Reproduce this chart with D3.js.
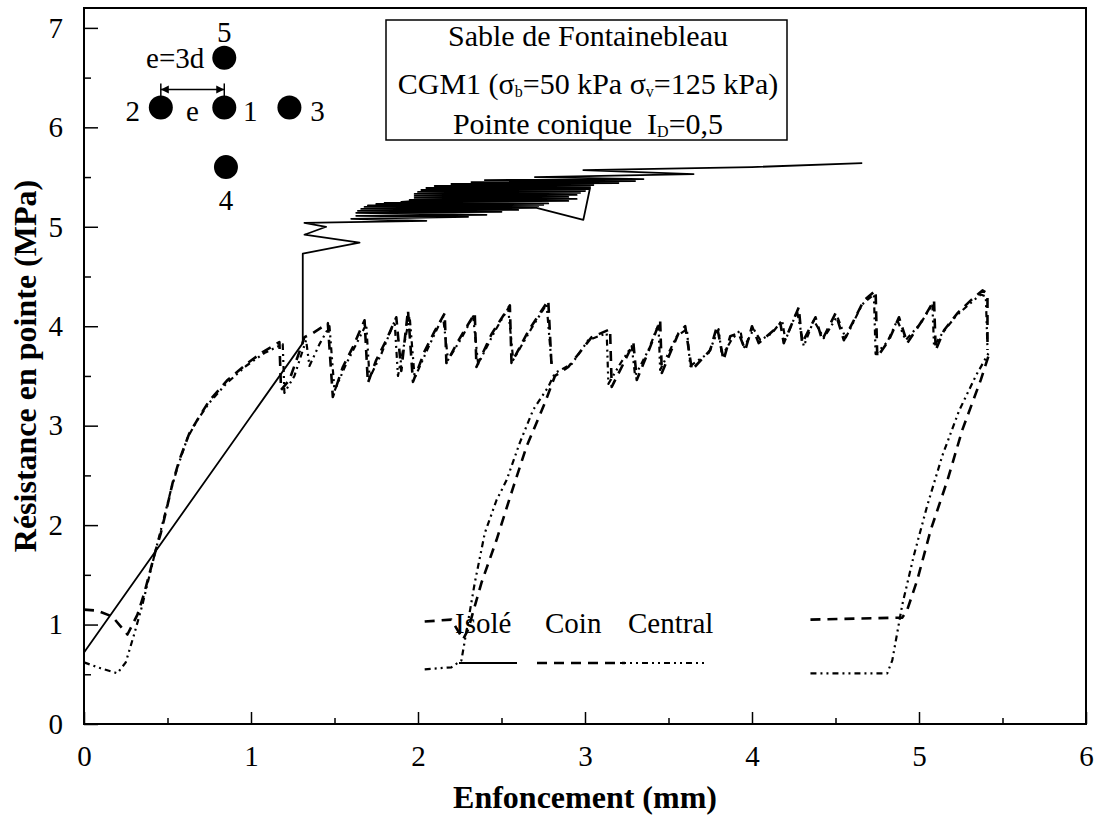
<!DOCTYPE html>
<html>
<head>
<meta charset="utf-8">
<script src="https://cdn.jsdelivr.net/npm/d3@7"></script>
<style>
  body { margin: 0; background: #fff; }
  svg text { font-family: "Liberation Serif", "Times New Roman", serif; fill: #000; }
</style>
</head>
<body>
<svg id="chart" width="1100" height="815"></svg>
<script>
// Tick values
var xTicks = [0, 1, 2, 3, 4, 5, 6];
var xMinor = [0.5, 1.5, 2.5, 3.5, 4.5, 5.5];
var yTicks = [0, 1, 2, 3, 4, 5, 6, 7];
var yMinor = [0.5, 1.5, 2.5, 3.5, 4.5, 5.5, 6.5];

var legendNames = ['Isolé', 'Coin', 'Central'];

// Isolé (trait plein) : [enfoncement mm, résistance MPa]
var isole = [[0, 0.72], [1.31, 3.83], [1.31, 4.73], [1.65, 4.84], [1.32, 4.92], [1.45, 5.0],
  [1.32, 5.04], [2.05, 5.06], [1.6, 5.08], [2.3, 5.1], [1.63, 5.11], [2.41, 5.12],
  [1.63, 5.14], [2.5, 5.15], [1.64, 5.16], [2.6, 5.17], [1.66, 5.18], [2.7, 5.19],
  [1.68, 5.2], [2.72, 5.21], [1.7, 5.215], [2.75, 5.22], [1.75, 5.23], [2.78, 5.235],
  [1.8, 5.24], [2.64, 5.22], [2.99, 5.07], [3.03, 5.39], [1.9, 5.25], [2.9, 5.26],
  [1.95, 5.27], [2.95, 5.28], [1.98, 5.29], [2.9, 5.3], [1.98, 5.31], [2.95, 5.32],
  [1.98, 5.33], [2.97, 5.34], [2.0, 5.35], [3.0, 5.36], [2.02, 5.37], [3.02, 5.38],
  [2.05, 5.39], [3.03, 5.4], [2.1, 5.41], [3.05, 5.42], [2.2, 5.43], [3.2, 5.44],
  [2.32, 5.45], [3.3, 5.46], [2.4, 5.47], [3.35, 5.48], [2.7, 5.5], [3.65, 5.53],
  [2.99, 5.57], [4.0, 5.6], [4.66, 5.64]];

// Coin (tirets)
var coin1 = [[0, 1.15], [0.08, 1.14], [0.17, 1.08], [0.26, 0.9], [0.32, 1.1], [0.36, 1.31],
  [0.39, 1.5], [0.43, 1.75], [0.46, 1.92], [0.5, 2.2], [0.53, 2.42], [0.57, 2.65],
  [0.63, 2.92], [0.69, 3.09], [0.75, 3.25], [0.86, 3.46], [0.98, 3.63], [1.07, 3.74],
  [1.17, 3.84], [1.18, 3.36], [1.23, 3.46], [1.3, 3.79], [1.32, 3.89], [1.37, 3.93],
  [1.46, 4.03], [1.49, 3.29], [1.55, 3.59], [1.61, 3.79], [1.68, 4.06], [1.7, 3.43],
  [1.75, 3.66], [1.81, 3.86], [1.87, 4.09], [1.9, 3.55], [1.94, 4.16], [1.97, 3.44],
  [2.04, 3.75], [2.1, 3.95], [2.16, 4.13], [2.17, 3.63], [2.24, 3.85], [2.34, 4.13],
  [2.35, 3.59], [2.44, 3.92], [2.55, 4.21], [2.56, 3.63], [2.66, 3.95], [2.78, 4.26],
  [2.8, 3.59]];
var coin2 = [[2.04, 1.03], [2.2, 1.05], [2.27, 0.85], [2.3, 0.95], [2.38, 1.42], [2.47, 1.85],
  [2.57, 2.38], [2.65, 2.79], [2.76, 3.23], [2.82, 3.5], [2.9, 3.59], [3.04, 3.89],
  [3.15, 3.97], [3.16, 3.39], [3.22, 3.59], [3.29, 3.83], [3.31, 3.46], [3.39, 3.79],
  [3.45, 4.06], [3.46, 3.53], [3.56, 3.93], [3.6, 4.0], [3.64, 3.56], [3.75, 3.76],
  [3.79, 4.0], [3.83, 3.66], [3.87, 3.9], [3.92, 3.93], [3.96, 3.76], [4.0, 4.0],
  [4.04, 3.83], [4.13, 3.96], [4.17, 4.03], [4.19, 3.83], [4.28, 4.19], [4.3, 3.83],
  [4.38, 4.09], [4.42, 3.86], [4.5, 4.13], [4.55, 3.86], [4.67, 4.26], [4.74, 4.36],
  [4.75, 3.69], [4.82, 3.86], [4.88, 4.09], [4.93, 3.83], [5.02, 4.06], [5.09, 4.26],
  [5.1, 3.76], [5.15, 3.96], [5.23, 4.13], [5.31, 4.26], [5.38, 4.36], [5.41, 4.33],
  [5.41, 3.76]];
var coin3 = [[4.35, 1.05], [4.9, 1.07], [4.93, 1.15], [4.99, 1.45], [5.07, 1.95], [5.17, 2.45],
  [5.26, 2.96], [5.37, 3.46], [5.42, 3.72]];

// Central (tiret-point-point)
var central1 = [[0, 0.62], [0.1, 0.56], [0.2, 0.51], [0.25, 0.62], [0.3, 0.9], [0.35, 1.2],
  [0.4, 1.55], [0.44, 1.82], [0.48, 2.08], [0.52, 2.35], [0.56, 2.58], [0.62, 2.88],
  [0.68, 3.06], [0.75, 3.23], [0.85, 3.42], [0.97, 3.6], [1.08, 3.73], [1.19, 3.82],
  [1.2, 3.33], [1.26, 3.5], [1.33, 3.86], [1.35, 3.6], [1.41, 3.82], [1.47, 4.0],
  [1.5, 3.35], [1.57, 3.62], [1.63, 3.82], [1.69, 4.02], [1.71, 3.48], [1.78, 3.72],
  [1.86, 4.05], [1.88, 3.5], [1.95, 4.1], [1.98, 3.48], [2.06, 3.78], [2.15, 4.1],
  [2.18, 3.66], [2.26, 3.88], [2.33, 4.1], [2.36, 3.62], [2.46, 3.95], [2.54, 4.18],
  [2.57, 3.66], [2.68, 3.98], [2.77, 4.22], [2.8, 3.62]];
var central2 = [[2.04, 0.55], [2.2, 0.57], [2.26, 0.64], [2.34, 1.42], [2.4, 1.92], [2.47, 2.25],
  [2.53, 2.45], [2.61, 2.83], [2.69, 3.16], [2.78, 3.39], [2.82, 3.53], [2.92, 3.62],
  [3.02, 3.86], [3.13, 3.93], [3.14, 3.42], [3.21, 3.62], [3.28, 3.8], [3.3, 3.5],
  [3.38, 3.76], [3.44, 4.02], [3.45, 3.56], [3.55, 3.9], [3.61, 3.97], [3.63, 3.6],
  [3.74, 3.73], [3.8, 3.97], [3.82, 3.7], [3.88, 3.87], [3.93, 3.96], [3.95, 3.78],
  [4.01, 3.97], [4.05, 3.86], [4.12, 3.93], [4.18, 4.06], [4.2, 3.86], [4.27, 4.15],
  [4.31, 3.8], [4.37, 4.06], [4.43, 3.88], [4.51, 4.1], [4.56, 3.88], [4.66, 4.22],
  [4.73, 4.32], [4.74, 3.72], [4.81, 3.84], [4.87, 4.06], [4.92, 3.86], [5.01, 4.03],
  [5.08, 4.22], [5.09, 3.8], [5.14, 3.93], [5.22, 4.1], [5.3, 4.22], [5.37, 4.32],
  [5.4, 4.3], [5.41, 3.78]];
var central3 = [[4.35, 0.51], [4.81, 0.51], [4.84, 0.64], [4.9, 1.2], [4.97, 1.7], [5.05, 2.2],
  [5.14, 2.7], [5.24, 3.15], [5.34, 3.5], [5.42, 3.74]];

// Schéma des pieux
var pileLabels = ['1', '2', '3', '4', '5'];
var pileX = [0.84, 0.46, 1.23, 0.85, 0.84];
var pileY = [6.2, 6.2, 6.2, 5.6, 6.7];

var svg = d3.select('#chart');

var x = d3.scaleLinear().domain([0, 6]).range([84, 1086]);
var y = d3.scaleLinear().domain([0, 7.2]).range([724, 8]);

function styleAxis(g) {
  g.select('.domain').remove();
  g.selectAll('line').attr('stroke', '#000').attr('stroke-width', 1.5);
  g.selectAll('text').attr('font-family', '"Liberation Serif", serif').attr('font-size', 29);
}

// Axes
svg.append('g')
  .attr('transform', 'translate(84,0)')
  .call(d3.axisLeft(y).tickValues(yTicks).tickSize(-14).tickPadding(21).tickFormat(d3.format('d')))
  .call(styleAxis);
svg.append('g')
  .attr('transform', 'translate(84,0)')
  .call(d3.axisLeft(y).tickValues(yMinor).tickSize(-7).tickFormat(''))
  .call(styleAxis);
svg.append('g')
  .attr('transform', 'translate(0,724)')
  .call(d3.axisBottom(x).tickValues(xTicks).tickSize(-12).tickPadding(21).tickFormat(d3.format('d')))
  .call(styleAxis);
svg.append('g')
  .attr('transform', 'translate(0,724)')
  .call(d3.axisBottom(x).tickValues(xMinor).tickSize(-6).tickFormat(''))
  .call(styleAxis);

// Frame
svg.append('rect')
  .attr('x', x(0)).attr('y', y(7.2))
  .attr('width', x(6) - x(0)).attr('height', y(0) - y(7.2))
  .attr('fill', 'none').attr('stroke', '#000').attr('stroke-width', 2);

// Axis titles
svg.append('text')
  .attr('x', (x(0) + x(6)) / 2).attr('y', 808)
  .attr('text-anchor', 'middle').attr('font-weight', 'bold').attr('font-size', 32)
  .text('Enfoncement (mm)');
svg.append('text')
  .attr('transform', 'translate(36,' + (y(0) + y(7.2)) / 2 + ') rotate(-90)')
  .attr('text-anchor', 'middle').attr('font-weight', 'bold').attr('font-size', 32)
  .text('Résistance en pointe (MPa)');

// Curves
var line = d3.line()
  .x(function(d) { return x(d[0]); })
  .y(function(d) { return y(d[1]); });

var styles = {
  solid: { width: 1.8, dash: null },
  dashed: { width: 2.6, dash: '10,7' },
  dotted: { width: 2.2, dash: '6,4,2,4,2,4' }
};

var series = [
  { data: coin1, style: 'dashed' },
  { data: coin2, style: 'dashed' },
  { data: coin3, style: 'dashed' },
  { data: central1, style: 'dotted' },
  { data: central2, style: 'dotted' },
  { data: central3, style: 'dotted' },
  { data: isole, style: 'solid' }
];

svg.append('g').selectAll('path')
  .data(series)
  .enter().append('path')
  .attr('d', function(s) { return line(s.data); })
  .attr('fill', 'none')
  .attr('stroke', '#000')
  .attr('stroke-linejoin', 'round')
  .attr('stroke-width', function(s) { return styles[s.style].width; })
  .attr('stroke-dasharray', function(s) { return styles[s.style].dash; });

// Legend inside plot
var legend = svg.append('g').attr('transform', 'translate(455,633)');
var legendX = [0, 90, 173];
var legendStyle = ['solid', 'dashed', 'dotted'];
legendNames.forEach(function(name, i) {
  legend.append('text').attr('x', legendX[i]).attr('y', 0)
    .attr('font-size', 29).text(name);
  legend.append('line')
    .attr('x1', legendX[i] + (i === 0 ? 4 : -8)).attr('x2', legendX[i] + (i === 0 ? 62 : 80))
    .attr('y1', 30).attr('y2', 30)
    .attr('stroke', '#000')
    .attr('stroke-width', styles[legendStyle[i]].width)
    .attr('stroke-dasharray', styles[legendStyle[i]].dash);
});

// Info box
var box = svg.append('g');
box.append('rect').attr('x', 386).attr('y', 20).attr('width', 401).attr('height', 120)
  .attr('fill', '#fff').attr('stroke', '#000').attr('stroke-width', 1.5);
var bx = 588;
box.append('text').attr('x', bx).attr('y', 46).attr('text-anchor', 'middle')
  .attr('font-size', 30).text('Sable de Fontainebleau');
var l2 = box.append('text').attr('x', bx).attr('y', 94).attr('text-anchor', 'middle').attr('font-size', 30);
l2.append('tspan').text('CGM1 (σ');
l2.append('tspan').attr('font-size', 16).attr('dy', 3).text('b');
l2.append('tspan').attr('dy', -3).text('=50 kPa σ');
l2.append('tspan').attr('font-size', 16).attr('dy', 3).text('v');
l2.append('tspan').attr('dy', -3).text('=125 kPa)');
var l3 = box.append('text').attr('x', bx).attr('y', 134).attr('text-anchor', 'middle').attr('font-size', 30);
l3.append('tspan').text('Pointe conique\u00a0\u00a0I');
l3.append('tspan').attr('font-size', 16).attr('dy', 3).text('D');
l3.append('tspan').attr('dy', -3).text('=0,5');

// Pile layout sketch
var sketch = svg.append('g');
sketch.selectAll('circle')
  .data(pileLabels)
  .enter().append('circle')
  .attr('cx', function(d, i) { return x(pileX[i]); })
  .attr('cy', function(d, i) { return y(pileY[i]); })
  .attr('r', 12)
  .attr('fill', '#000');

var labelOffset = [[26, 14], [-28, 14], [28, 14], [0, 43], [0, -16]];
sketch.selectAll('text.pile')
  .data(pileLabels)
  .enter().append('text')
  .attr('class', 'pile')
  .attr('x', function(d, i) { return x(pileX[i]) + labelOffset[i][0]; })
  .attr('y', function(d, i) { return y(pileY[i]) + labelOffset[i][1]; })
  .attr('text-anchor', 'middle')
  .attr('font-size', 29)
  .text(function(d) { return d; });

sketch.append('text')
  .attr('x', (x(pileX[1]) + x(pileX[0])) / 2).attr('y', y(pileY[0]) + 14)
  .attr('text-anchor', 'middle').attr('font-size', 29).text('e');
sketch.append('text')
  .attr('x', x(pileX[4]) - 20).attr('y', y(pileY[4]) + 10)
  .attr('text-anchor', 'end').attr('font-size', 29).text('e=3d');

// dimension arrow between piles 2 and 1
var ax1 = x(pileX[1]), ax2 = x(pileX[0]), ay = y(pileY[0]) - 18;
sketch.append('line').attr('x1', ax1).attr('x2', ax2).attr('y1', ay).attr('y2', ay)
  .attr('stroke', '#000').attr('stroke-width', 1.5);
[ax1, ax2].forEach(function(px, i) {
  sketch.append('line').attr('x1', px).attr('x2', px).attr('y1', ay - 6).attr('y2', ay + 10)
    .attr('stroke', '#000').attr('stroke-width', 1.5);
  var dir = i === 0 ? 1 : -1;
  sketch.append('path')
    .attr('d', 'M' + px + ',' + ay + 'l' + (8 * dir) + ',-4l0,8z')
    .attr('fill', '#000');
});
</script>
</body>
</html>
